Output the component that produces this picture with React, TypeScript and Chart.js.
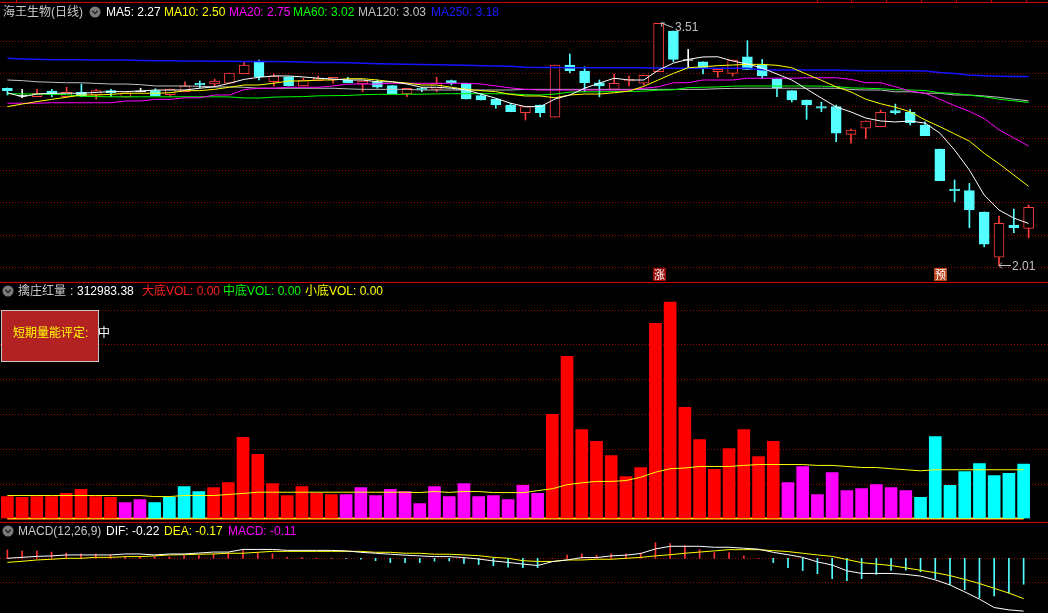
import React, { useEffect, useRef } from "react";
import { Chart, registerables } from "chart.js";

Chart.register(...registerables);

// ---------------- data ----------------
const opens = [
  3.108, 3.063, 3.055, 3.091, 3.055, 3.083, 3.066, 3.093, 3.052, 3.089,
  3.093, 3.068, 3.086, 3.139, 3.134, 3.139, 3.198, 3.272, 3.148, 3.179,
  3.122, 3.155, 3.159, 3.159, 3.134, 3.148, 3.124, 3.072, 3.108, 3.101,
  3.155, 3.139, 3.062, 3.041, 3.004, 2.956, 3.004, 2.928, 3.252, 3.215,
  3.142, 3.101, 3.153, 3.139, 3.21, 3.463, 3.283, 3.272, 3.21, 3.2,
  3.303, 3.252, 3.165, 3.093, 3.035, 2.994, 2.994, 2.822, 2.86, 2.869,
  2.969, 2.959, 2.88, 2.731, 2.483, 2.473, 2.341, 2.06, 2.26, 2.239,
];
const closes = [
  3.093, 3.063, 3.077, 3.07, 3.083, 3.062, 3.093, 3.08, 3.08, 3.089,
  3.062, 3.103, 3.122, 3.128, 3.153, 3.202, 3.252, 3.179, 3.184, 3.122,
  3.159, 3.17, 3.176, 3.142, 3.153, 3.114, 3.074, 3.108, 3.101, 3.139,
  3.139, 3.041, 3.035, 3.004, 2.962, 2.994, 2.956, 3.252, 3.217, 3.142,
  3.122, 3.139, 3.163, 3.188, 3.51, 3.287, 3.283, 3.235, 3.225, 3.283,
  3.225, 3.184, 3.108, 3.035, 3.004, 2.984, 2.829, 2.849, 2.905, 2.959,
  2.956, 2.894, 2.814, 2.535, 2.473, 2.353, 2.142, 2.27, 2.243, 2.37,
];
const highs = [
  3.11, 3.101, 3.101, 3.101, 3.114, 3.134, 3.101, 3.101, 3.08, 3.108,
  3.105, 3.103, 3.147, 3.153, 3.165, 3.202, 3.272, 3.283, 3.196, 3.179,
  3.171, 3.184, 3.176, 3.176, 3.153, 3.159, 3.124, 3.108, 3.114, 3.176,
  3.159, 3.139, 3.077, 3.041, 3.015, 2.994, 3.004, 3.252, 3.32, 3.241,
  3.159, 3.196, 3.184, 3.188, 3.51, 3.463, 3.349, 3.272, 3.225, 3.283,
  3.403, 3.287, 3.165, 3.093, 3.035, 3.021, 3.004, 2.855, 2.905, 2.973,
  3.01, 2.977, 2.899, 2.731, 2.539, 2.518, 2.341, 2.316, 2.359, 2.384,
];
const lows = [
  3.066, 3.049, 3.055, 3.055, 3.053, 3.055, 3.041, 3.055, 3.052, 3.085,
  3.062, 3.055, 3.086, 3.111, 3.117, 3.139, 3.198, 3.159, 3.122, 3.122,
  3.122, 3.155, 3.139, 3.142, 3.086, 3.108, 3.074, 3.055, 3.086, 3.086,
  3.128, 3.041, 3.035, 2.984, 2.962, 2.911, 2.931, 2.928, 3.204, 3.086,
  3.055, 3.101, 3.122, 3.128, 3.21, 3.272, 3.231, 3.196, 3.176, 3.184,
  3.225, 3.17, 3.055, 3.023, 2.915, 2.962, 2.776, 2.767, 2.797, 2.869,
  2.946, 2.88, 2.814, 2.535, 2.404, 2.243, 2.125, 2.01, 2.212, 2.181,
];
const ma5 = [
  3.08, 3.055, 3.072, 3.077, 3.077, 3.077, 3.082, 3.087, 3.087, 3.091,
  3.097, 3.097, 3.097, 3.108, 3.117, 3.139, 3.163, 3.176, 3.184, 3.184,
  3.178, 3.17, 3.165, 3.159, 3.159, 3.148, 3.148, 3.134, 3.114, 3.114,
  3.108, 3.097, 3.072, 3.046, 3.015, 2.994, 2.994, 3.041, 3.066, 3.108,
  3.14, 3.17, 3.159, 3.159, 3.221, 3.264, 3.287, 3.302, 3.303, 3.277,
  3.258, 3.233, 3.196, 3.159, 3.103, 3.047, 2.992, 2.961, 2.923, 2.905,
  2.899, 2.905, 2.892, 2.83, 2.725, 2.601, 2.446, 2.353, 2.303, 2.27,
];
const ma10 = [
  2.994, 3.01, 3.025, 3.039, 3.052, 3.066, 3.066, 3.07, 3.077, 3.077,
  3.077, 3.08, 3.093, 3.093, 3.101, 3.114, 3.128, 3.128, 3.139, 3.153,
  3.153, 3.159, 3.159, 3.167, 3.167, 3.159, 3.148, 3.14, 3.128, 3.128,
  3.114, 3.101, 3.093, 3.087, 3.07, 3.06, 3.06, 3.049, 3.066, 3.072,
  3.072, 3.08, 3.09, 3.12, 3.16, 3.2, 3.235, 3.241, 3.248, 3.252,
  3.256, 3.256, 3.25, 3.235, 3.195, 3.157, 3.117, 3.085, 3.04, 3.012,
  2.99, 2.962, 2.912, 2.87, 2.825, 2.78, 2.705, 2.64, 2.57, 2.5,
];
const ma20 = [
  3.015, 3.015, 3.015, 3.018, 3.018, 3.018, 3.018, 3.018, 3.029, 3.029,
  3.039, 3.039, 3.049, 3.049, 3.066, 3.066, 3.1, 3.108, 3.108, 3.114,
  3.114, 3.114, 3.122, 3.134, 3.134, 3.134, 3.139, 3.139, 3.139, 3.139,
  3.139, 3.139, 3.134, 3.122, 3.11, 3.101, 3.097, 3.097, 3.097, 3.097,
  3.097, 3.097, 3.097, 3.108, 3.117, 3.142, 3.142, 3.159, 3.159, 3.159,
  3.17, 3.17, 3.17, 3.17, 3.173, 3.173, 3.173, 3.163, 3.142, 3.142,
  3.117, 3.09, 3.077, 3.04, 3.0, 2.965, 2.92, 2.85, 2.8, 2.75,
];
const ma60 = [
  3.074, 3.073, 3.072, 3.071, 3.068, 3.058, 3.056, 3.055, 3.055, 3.055,
  3.055, 3.055, 3.055, 3.055, 3.055, 3.054, 3.048, 3.047, 3.053, 3.055,
  3.056, 3.061, 3.062, 3.063, 3.068, 3.07, 3.07, 3.071, 3.071, 3.073,
  3.074, 3.074, 3.074, 3.074, 3.073, 3.068, 3.066, 3.072, 3.084, 3.086,
  3.086, 3.087, 3.088, 3.09, 3.096, 3.098, 3.112, 3.114, 3.116, 3.121,
  3.122, 3.122, 3.122, 3.122, 3.122, 3.121, 3.118, 3.11, 3.108, 3.105,
  3.099, 3.097, 3.094, 3.08, 3.076, 3.065, 3.055, 3.04, 3.03, 3.02,
];
const ma120 = [
  3.159, 3.155, 3.148, 3.145, 3.142, 3.142, 3.138, 3.134, 3.134, 3.13,
  3.122, 3.122, 3.122, 3.12, 3.116, 3.116, 3.114, 3.108, 3.108, 3.108,
  3.108, 3.108, 3.108, 3.104, 3.101, 3.101, 3.101, 3.101, 3.097, 3.097,
  3.097, 3.097, 3.097, 3.097, 3.097, 3.101, 3.101, 3.101, 3.101, 3.101,
  3.101, 3.101, 3.101, 3.101, 3.101, 3.101, 3.101, 3.101, 3.105, 3.107,
  3.108, 3.108, 3.108, 3.108, 3.108, 3.108, 3.108, 3.1, 3.097, 3.097,
  3.086, 3.086, 3.077, 3.077, 3.066, 3.066, 3.06, 3.052, 3.04, 3.03,
];
const ma250 = [
  3.294, 3.29, 3.287, 3.285, 3.284, 3.284, 3.283, 3.283, 3.283, 3.28,
  3.279, 3.278, 3.277, 3.277, 3.276, 3.275, 3.274, 3.273, 3.273, 3.272,
  3.27, 3.268, 3.267, 3.266, 3.263, 3.26, 3.258, 3.257, 3.255, 3.253,
  3.252, 3.25, 3.248, 3.246, 3.244, 3.238, 3.236, 3.236, 3.235, 3.235,
  3.235, 3.235, 3.235, 3.235, 3.233, 3.232, 3.232, 3.232, 3.232, 3.232,
  3.232, 3.222, 3.221, 3.221, 3.221, 3.221, 3.221, 3.218, 3.217, 3.217,
  3.217, 3.217, 3.215, 3.205, 3.2, 3.19, 3.185, 3.182, 3.18, 3.18,
];
const priceTicks = [2.0, 2.2, 2.4, 2.6, 2.8, 3.0, 3.2, 3.4];

const volumes = [
  126000, 121000, 126000, 126000, 144000, 167000, 126000, 121000, 92000, 109000,
  92000, 121000, 184000, 155000, 178000, 207000, 466000, 368000, 201000, 132000,
  184000, 144000, 138000, 138000, 178000, 132000, 167000, 155000, 86000, 184000,
  126000, 201000, 126000, 132000, 109000, 190000, 144000, 598000, 931000, 511000,
  443000, 362000, 241000, 293000, 1122000, 1243000, 638000, 454000, 282000, 402000,
  511000, 356000, 443000, 207000, 299000, 138000, 264000, 161000, 172000, 195000,
  178000, 161000, 121000, 471000, 190000, 270000, 316000, 247000, 259000, 312983.38,
];
// r = red, m = magenta, c = cyan
const volumeKinds = [
  "r", "r", "r", "r", "r", "r", "r", "r", "m", "m",
  "c", "c", "c", "c", "r", "r", "r", "r", "r", "r",
  "r", "r", "r", "m", "m", "m", "m", "m", "m", "m",
  "m", "m", "m", "m", "m", "m", "m", "r", "r", "r",
  "r", "r", "r", "r", "r", "r", "r", "r", "r", "r",
  "r", "r", "r", "m", "m", "m", "m", "m", "m", "m",
  "m", "m", "c", "c", "c", "c", "c", "c", "c", "c",
];
const volumeAvg = [
  132000, 132000, 132000, 132000, 132000, 132000, 132000, 132000, 132000, 132000,
  126000, 126000, 132000, 132000, 132000, 138000, 144000, 151000, 151000, 151000,
  151000, 151000, 151000, 151000, 151000, 151000, 151000, 151000, 149000, 155000,
  150000, 155000, 155000, 149000, 149000, 148000, 160000, 171000, 194000, 205000,
  213000, 213000, 218000, 237000, 266000, 286000, 290000, 299000, 299000, 299000,
  305000, 310000, 310000, 310000, 310000, 305000, 305000, 299000, 293000, 293000,
  286000, 280000, 274000, 280000, 280000, 280000, 280000, 280000, 280000, 280000,
];
const bottomVol = [
  0, 0, 0, 0, 0, 0, 0, 0, 0, 0, 0, 0, 0, 0, 0, 0, 0, 0, 0, 0,
  0, 0, 0, 0, 0, 0, 0, 0, 0, 0, 0, 0, 0, 0, 0, 0, 0, 0, 0, 0,
  0, 0, 0, 0, 0, 0, 0, 0, 0, 0, 0, 0, 0, 0, 0, 0, 0, 0, 0, 0,
  0, 0, 0, 0, 0, 0, 0, 0, 0, 0,
];
const volumeTicks = [200000, 400000, 600000, 800000, 1000000, 1200000];

const dif = [
  0.0, 0.004, 0.008, 0.01, 0.014, 0.014, 0.014, 0.014, 0.018, 0.018,
  0.014, 0.018, 0.018, 0.022, 0.026, 0.026, 0.037, 0.037, 0.037, 0.033,
  0.033, 0.033, 0.033, 0.031, 0.025, 0.021, 0.017, 0.013, 0.01, 0.007,
  0.007, 0.003, -0.003, -0.011, -0.017, -0.024, -0.03, -0.014, -0.007, 0.003,
  0.003, 0.01, 0.013, 0.02, 0.039, 0.05, 0.05, 0.05, 0.046, 0.046,
  0.042, 0.038, 0.025, 0.015, 0.004, -0.015, -0.028, -0.052, -0.063, -0.063,
  -0.063, -0.067, -0.074, -0.09, -0.111, -0.14, -0.17, -0.205, -0.215, -0.22,
];
const dea = [
  -0.017, -0.0125, -0.007, -0.004, 0.0, 0.0, 0.004, 0.004, 0.007, 0.007,
  0.01, 0.014, 0.015, 0.017, 0.018, 0.021, 0.021, 0.025, 0.029, 0.029,
  0.029, 0.029, 0.029, 0.029, 0.029, 0.025, 0.025, 0.021, 0.021, 0.017,
  0.017, 0.014, 0.011, 0.004, 0.0, -0.01, -0.013, -0.013, -0.007, -0.007,
  -0.004, -0.004, 0.0, 0.004, 0.01, 0.015, 0.021, 0.026, 0.031, 0.036,
  0.036, 0.036, 0.032, 0.028, 0.021, 0.014, 0.008, -0.005, -0.018, -0.024,
  -0.03, -0.04, -0.05, -0.06, -0.072, -0.088, -0.105, -0.125, -0.145, -0.168,
];
const macd = [
  0.035, 0.03, 0.03, 0.026, 0.022, 0.019, 0.018, 0.015, 0.008, 0.007,
  0.007, 0.006, 0.011, 0.011, 0.019, 0.024, 0.032, 0.025, 0.019, 0.004,
  0.003, 0.001, 0.001, -0.001, -0.004, -0.01, -0.018, -0.018, -0.018, -0.012,
  -0.011, -0.021, -0.026, -0.031, -0.037, -0.039, -0.039, 0.0, 0.013, 0.019,
  0.013, 0.019, 0.019, 0.022, 0.065, 0.061, 0.053, 0.036, 0.024, 0.024,
  0.01, 0.0, -0.018, -0.039, -0.051, -0.064, -0.085, -0.093, -0.085, -0.067,
  -0.051, -0.049, -0.056, -0.085, -0.11, -0.131, -0.165, -0.157, -0.144, -0.108,
];
const macdTicks = [0, -0.1];

const signalIndex = [44, 63];
const signalText = ["涨", "预"];

const days = opens.map((_, i) => String(i + 1));

// ---------------- styles ----------------
const UP = "#ff3c3c";
const DOWN = "#54ffff";
const FLAT = "#ffffff";
const GRID = "#a00000";
const LABEL = "#c0c0c0";
const SEP = "#d00000";
const SIGNAL_BG = ["#990d0d", "#b8461c"];
const VOL_COLORS: Record<string, string> = { r: "#ff0000", m: "#ff00ff", c: "#00ffff" };
const FONT = '"Liberation Sans", Arial, "Noto Sans CJK SC", sans-serif';

function dottedGrid(values: number[]) {
  return {
    id: "dottedGrid",
    beforeDatasetsDraw(chart: any) {
      const { ctx } = chart;
      const y = chart.scales.y;
      ctx.save();
      ctx.strokeStyle = GRID;
      ctx.lineWidth = 1;
      ctx.setLineDash([1, 2]);
      values.forEach((v) => {
        const py = Math.round(y.getPixelForValue(v)) + 0.5;
        ctx.beginPath();
        ctx.moveTo(0, py);
        ctx.lineTo(chart.width, py);
        ctx.stroke();
      });
      ctx.restore();
    },
  };
}

const markPlugin = {
  id: "marks",
  afterDatasetsDraw(chart: any) {
    const { ctx, chartArea } = chart;
    const x = chart.scales.x;
    const y = chart.scales.y;
    ctx.save();
    signalIndex.forEach((idx, k) => {
      const cx = Math.round(x.getPixelForValue(idx));
      const top = chartArea.bottom - 13;
      ctx.fillStyle = SIGNAL_BG[k];
      ctx.fillRect(cx - 6, top, 13, 13);
      ctx.fillStyle = "#ffffff";
      ctx.font = '11px "Noto Sans CJK SC"';
      ctx.textAlign = "center";
      ctx.textBaseline = "middle";
      ctx.fillText(signalText[k], cx + 0.5, top + 7);
    });
    ctx.strokeStyle = LABEL;
    ctx.fillStyle = LABEL;
    ctx.lineWidth = 1;
    ctx.font = "12px " + FONT;
    ctx.textAlign = "left";
    ctx.textBaseline = "middle";
    // highest
    const hi = highs.indexOf(Math.max(...highs));
    const hx = Math.round(x.getPixelForValue(hi)) + 2;
    const hy = Math.round(y.getPixelForValue(highs[hi]));
    ctx.beginPath();
    ctx.moveTo(hx, hy);
    ctx.lineTo(hx + 12, hy + 4.5);
    ctx.moveTo(hx, hy);
    ctx.lineTo(hx + 4, hy);
    ctx.moveTo(hx, hy);
    ctx.lineTo(hx + 1, hy + 4);
    ctx.stroke();
    ctx.fillText(highs[hi].toFixed(2), hx + 14, hy + 5);
    // lowest
    const lo = lows.indexOf(Math.min(...lows));
    const lx = Math.round(x.getPixelForValue(lo));
    const ly = Math.round(y.getPixelForValue(lows[lo])) + 0.5;
    ctx.beginPath();
    ctx.moveTo(lx, ly);
    ctx.lineTo(lx + 12, ly);
    ctx.moveTo(lx, ly);
    ctx.lineTo(lx + 3, ly - 3);
    ctx.moveTo(lx, ly);
    ctx.lineTo(lx + 3, ly + 3);
    ctx.stroke();
    ctx.fillText(lows[lo].toFixed(2), lx + 13, ly + 1);
    ctx.restore();
  },
};

const candleColor = (i: number) =>
  closes[i] > opens[i] ? UP : closes[i] < opens[i] ? DOWN : FLAT;

const line = (label: string, data: number[], color: string, order: number, width = 1) => ({
  type: "line",
  label,
  data,
  borderColor: color,
  borderWidth: width,
  pointRadius: 0,
  tension: 0,
  order,
});

function topConfig(): any {
  const bodies = opens.map((o, i) => {
    const c = closes[i];
    return Math.abs(c - o) < 0.004 ? [o - 0.003, o + 0.003] : [o, c];
  });
  const wicks = lows.map((l, i) => [l, highs[i]]);
  return {
    type: "bar",
    data: {
      labels: days,
      datasets: [
        {
          label: "wick",
          data: wicks,
          backgroundColor: days.map((_, i) => candleColor(i)),
          borderWidth: 0,
          barThickness: 1,
          grouped: false,
          order: 20,
        },
        {
          label: "body",
          data: bodies,
          backgroundColor: days.map((_, i) => (closes[i] > opens[i] ? "#000000" : candleColor(i))),
          borderColor: days.map((_, i) => candleColor(i)),
          borderWidth: 1,
          borderSkipped: false,
          barThickness: 10,
          grouped: false,
          order: 19,
        },
        line("MA250", ma250, "#1414ff", 6, 1.5),
        line("MA120", ma120, "#c0c0c0", 5),
        line("MA60", ma60, "#00ff00", 4),
        line("MA20", ma20, "#ff00ff", 3),
        line("MA10", ma10, "#ffff00", 2),
        line("MA5", ma5, "#ffffff", 1),
      ],
    },
    options: {
      responsive: false,
      animation: false,
      events: [],
      devicePixelRatio: 1,
      layout: { padding: { left: 0, right: 12, top: 0, bottom: 0 } },
      plugins: { legend: { display: false }, tooltip: { enabled: false } },
      scales: {
        x: { type: "category", display: false, offset: true },
        y: { display: false, min: 1.913, max: 3.655 },
      },
    },
    plugins: [dottedGrid(priceTicks), markPlugin],
  };
}

function volConfig(): any {
  return {
    type: "bar",
    data: {
      labels: days,
      datasets: [
        {
          label: "vol",
          data: volumes,
          backgroundColor: volumeKinds.map((k) => VOL_COLORS[k]),
          borderWidth: 0,
          barThickness: 12,
          grouped: false,
          order: 5,
        },
        { ...line("avg", volumeAvg, "#ffff00", 1), order: 1 },
        { ...line("大底VOL", bottomVol, "#ff0000", 9, 3), clip: false },
        { ...line("中底VOL", bottomVol, "#00ff00", 8, 1.5), clip: false },
        { ...line("小底VOL", bottomVol, "#ffff00", 7, 1), clip: false },
      ],
    },
    options: {
      responsive: false,
      animation: false,
      events: [],
      devicePixelRatio: 1,
      layout: { padding: { left: 0, right: 17, top: 0, bottom: 3.5 } },
      plugins: { legend: { display: false }, tooltip: { enabled: false } },
      scales: {
        x: { type: "category", display: false, offset: true },
        y: { display: false, min: 0, max: 1353000 },
      },
    },
    plugins: [dottedGrid(volumeTicks)],
  };
}

function macdConfig(): any {
  return {
    type: "bar",
    data: {
      labels: days,
      datasets: [
        {
          label: "MACD",
          data: macd,
          backgroundColor: macd.map((v) => (v >= 0 ? "#ff3232" : "#54ffff")),
          borderWidth: 0,
          barThickness: 1,
          grouped: false,
          order: 5,
        },
        line("DEA", dea, "#ffff00", 2),
        line("DIF", dif, "#ffffff", 1),
      ],
    },
    options: {
      responsive: false,
      animation: false,
      events: [],
      devicePixelRatio: 1,
      layout: { padding: { left: 0, right: 17, top: 0, bottom: 0 } },
      plugins: { legend: { display: false }, tooltip: { enabled: false } },
      scales: {
        x: { type: "category", display: false, offset: true },
        y: { display: false, min: -0.2279, max: 0.1471 },
      },
    },
    plugins: [dottedGrid(macdTicks)],
  };
}

function Icon({ x, y }: { x: number; y: number }) {
  return (
    <svg style={{ position: "absolute", left: x, top: y }} width={12} height={12}>
      <circle cx={6} cy={6} r={5.5} fill="#7a7a7a" />
      <polyline points="3.3,4.8 6,7.6 8.7,4.8" fill="none" stroke="#262626" strokeWidth={1.4} />
    </svg>
  );
}

function T({ x, y, color, children, size = 12 }: any) {
  return (
    <div
      style={{
        position: "absolute",
        left: x,
        top: y,
        color,
        fontSize: size,
        lineHeight: "14px",
        whiteSpace: "nowrap",
        fontFamily: FONT,
      }}
    >
      {children}
    </div>
  );
}

const last = (a: number[]) => a[a.length - 1];

export default function App() {
  const topRef = useRef<HTMLCanvasElement>(null);
  const volRef = useRef<HTMLCanvasElement>(null);
  const macdRef = useRef<HTMLCanvasElement>(null);

  useEffect(() => {
    const charts = [
      new Chart(topRef.current as HTMLCanvasElement, topConfig()),
      new Chart(volRef.current as HTMLCanvasElement, volConfig()),
      new Chart(macdRef.current as HTMLCanvasElement, macdConfig()),
    ];
    return () => charts.forEach((c) => c.destroy());
  }, []);

  const tickXs = [16, 817, 851, 886, 921, 956, 991, 1026];

  return (
    <div
      style={{
        position: "fixed",
        left: 0,
        top: 0,
        width: 1048,
        height: 613,
        background: "#000",
        overflow: "hidden",
      }}
    >
      <canvas ref={topRef} width={1048} height={281} style={{ position: "absolute", left: 0, top: 0, width: 1048, height: 281 }} />
      <canvas ref={volRef} width={1048} height={239} style={{ position: "absolute", left: 0, top: 283, width: 1048, height: 239 }} />
      <canvas ref={macdRef} width={1048} height={90} style={{ position: "absolute", left: 0, top: 523, width: 1048, height: 90 }} />

      {/* separators */}
      <div style={{ position: "absolute", left: 0, top: 2, width: 1048, height: 1, background: SEP }} />
      {tickXs.map((tx) => (
        <div key={tx} style={{ position: "absolute", left: tx, top: 0, width: 1, height: 2, background: SEP }} />
      ))}
      <div style={{ position: "absolute", left: 0, top: 282, width: 1048, height: 1, background: SEP }} />
      <div style={{ position: "absolute", left: 0, top: 522, width: 1048, height: 1, background: SEP }} />

      {/* top header */}
      <T x={3} y={5} color="#c8c8c8">海王生物(日线)</T>
      <Icon x={89} y={6} />
      <T x={106} y={5} color="#ffffff">{`MA5: ${last(ma5).toFixed(2)}`}</T>
      <T x={164} y={5} color="#ffff00">{`MA10: ${last(ma10).toFixed(2)}`}</T>
      <T x={229} y={5} color="#ff00ff">{`MA20: ${last(ma20).toFixed(2)}`}</T>
      <T x={293} y={5} color="#00ff00">{`MA60: ${last(ma60).toFixed(2)}`}</T>
      <T x={358} y={5} color="#c0c0c0">{`MA120: ${last(ma120).toFixed(2)}`}</T>
      <T x={431} y={5} color="#1c1cff">{`MA250: ${last(ma250).toFixed(2)}`}</T>

      {/* volume header */}
      <Icon x={2} y={285} />
      <T x={18} y={284} color="#c8c8c8">擒庄红量</T>
      <T x={70} y={284} color="#e0e0e0">:</T>
      <T x={77} y={284} color="#ffffff">{last(volumes).toFixed(2)}</T>
      <T x={142} y={284} color="#ff2020">{`大底VOL: ${last(bottomVol).toFixed(2)}`}</T>
      <T x={223} y={284} color="#00ff00">{`中底VOL: ${last(bottomVol).toFixed(2)}`}</T>
      <T x={305} y={284} color="#ffff00">{`小底VOL: ${last(bottomVol).toFixed(2)}`}</T>

      <div
        style={{
          position: "absolute",
          left: 1,
          top: 310,
          width: 98,
          height: 52,
          background: "#b22222",
          border: "1px solid #c8c8c8",
          boxSizing: "border-box",
        }}
      />
      <T x={13} y={326} color="#ffff00">短期量能评定:</T>
      <T x={98} y={326} color="#ffffff">中</T>

      {/* macd header */}
      <Icon x={2} y={525} />
      <T x={18} y={524} color="#c8c8c8">MACD(12,26,9)</T>
      <T x={106} y={524} color="#ffffff">{`DIF: ${last(dif).toFixed(2)}`}</T>
      <T x={164} y={524} color="#ffff00">{`DEA: ${last(dea).toFixed(2)}`}</T>
      <T x={228} y={524} color="#ff00ff">{`MACD: ${last(macd).toFixed(2)}`}</T>
    </div>
  );
}
